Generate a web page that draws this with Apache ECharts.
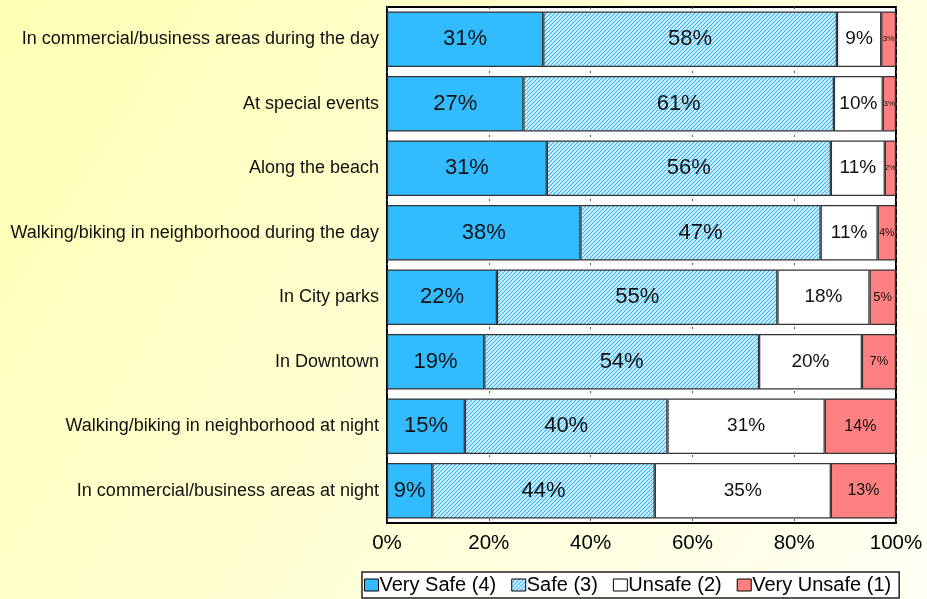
<!DOCTYPE html>
<html>
<head>
<meta charset="utf-8">
<script src="https://cdn.jsdelivr.net/npm/echarts@6/dist/echarts.min.js"></script>
<style>
html,body{margin:0;padding:0;}
#chart{width:927px;height:599px;}
</style>
</head>
<body>
<div id="chart"></div>
<script>
const categories = [
  "In commercial/business areas during the day",
  "At special events",
  "Along the beach",
  "Walking/biking in neighborhood during the day",
  "In City parks",
  "In Downtown",
  "Walking/biking in neighborhood at night",
  "In commercial/business areas at night"
];
const seriesNames = ["Very Safe (4)", "Safe (3)", "Unsafe (2)", "Very Unsafe (1)"];
const verySafe   = [30.7, 26.8, 31.4, 38.0, 21.6, 19.1, 15.3, 8.9];
const safe       = [57.7, 61.0, 55.8, 47.2, 55.1, 54.0, 39.8, 43.7];
const unsafe     = [8.7, 9.6, 10.6, 11.2, 18.1, 20.2, 30.9, 34.6];
const veryUnsafe = [2.9, 2.6, 2.2, 3.6, 5.2, 6.7, 14.0, 12.8];
const xTicks = [0, 20, 40, 60, 80, 100];

const FONT = 'Liberation Sans, Arial, sans-serif';

// hatched pattern for "Safe"
function makePattern() {
  const c = document.createElement('canvas');
  c.width = 4; c.height = 4;
  const g = c.getContext('2d');
  g.fillStyle = '#E2F5FF';
  g.fillRect(0, 0, 4, 4);
  g.strokeStyle = '#2FB4F2';
  g.lineWidth = 1.1;
  g.beginPath();
  g.moveTo(-1, 5); g.lineTo(5, -1);
  g.moveTo(-1, 1); g.lineTo(1, -1);
  g.moveTo(3, 5); g.lineTo(5, 3);
  g.stroke();
  return c;
}
const pattern = { image: makePattern(), repeat: 'repeat' };

const colors = ['#33BBFF', pattern, '#FFFFFF', '#FF8080'];
const dataSets = [verySafe, safe, unsafe, veryUnsafe];

function richStyle(size) { return { fontSize: size, color: '#111', fontFamily: FONT }; }

function labelFor(idx) {
  return {
    show: true,
    position: 'inside',
    color: '#111',
    fontFamily: FONT,
    formatter: function (p) {
      const v = Math.round(p.value) + '%';
      let k = 'big';
      if (idx === 2) k = 'mid';
      if (idx === 3) k = p.value < 2.5 ? 'xs' : p.value < 3.2 ? 'xs1' : p.value < 4 ? 'xs2' : p.value < 8 ? 'tiny' : 'vs';
      return '{' + k + '|' + v + '}';
    },
    rich: {
      big: richStyle(22),
      mid: richStyle(19),
      vs: richStyle(16),
      tiny: richStyle(13),
      xs2: richStyle(10.5),
      xs1: richStyle(8),
      xs: richStyle(7)
    }
  };
}

const series = seriesNames.map((name, i) => ({
  name: name,
  type: 'bar',
  stack: 'total',
  barCategoryGap: '14%',
  data: dataSets[i],
  itemStyle: { color: colors[i], borderColor: '#333', borderWidth: 1.2 },
  label: labelFor(i),
  emphasis: { disabled: true },
  silent: true
}));

const chart = echarts.init(document.getElementById('chart'), null, { renderer: 'canvas' });
chart.setOption({
  animation: false,
  backgroundColor: {
    type: 'linear', x: 0, y: 0, x2: 1, y2: 1,
    colorStops: [
      { offset: 0, color: '#FFFFB4' },
      { offset: 1, color: '#FFFFF4' }
    ]
  },
  textStyle: { fontFamily: FONT },
  grid: {
    left: 387, right: 31, top: 7, bottom: 76,
    show: true, backgroundColor: '#FFFFFF', borderColor: '#000', borderWidth: 2
  },
  legend: {
    left: 362, bottom: 1,
    data: seriesNames,
    backgroundColor: '#FFFFFF',
    borderColor: '#222',
    borderWidth: 1.5,
    borderRadius: 0,
    padding: [3, 8, 3, 2],
    itemGap: 15,
    itemWidth: 14,
    itemHeight: 12,
    icon: 'rect',
    itemStyle: { borderColor: '#000', borderWidth: 1 },
    textStyle: { fontSize: 20, color: '#000', padding: [0, 0, 0, -4] }
  },
  xAxis: {
    type: 'value',
    min: 0, max: 100, interval: 20,
    axisLabel: {
      fontSize: 20.5, color: '#000', margin: 10,
      formatter: function (v) { return xTicks.indexOf(v) >= 0 ? v + '%' : ''; }
    },
    axisLine: { show: false },
    axisTick: { show: false },
    splitLine: { show: true, lineStyle: { color: '#555', type: [2, 6], width: 1 } }
  },
  yAxis: {
    type: 'category',
    inverse: true,
    data: categories,
    axisLabel: { fontSize: 18, color: '#111', margin: 8 },
    axisLine: { show: false },
    axisTick: { show: false },
    splitLine: { show: false }
  },
  series: series
});
</script>
</body>
</html>
